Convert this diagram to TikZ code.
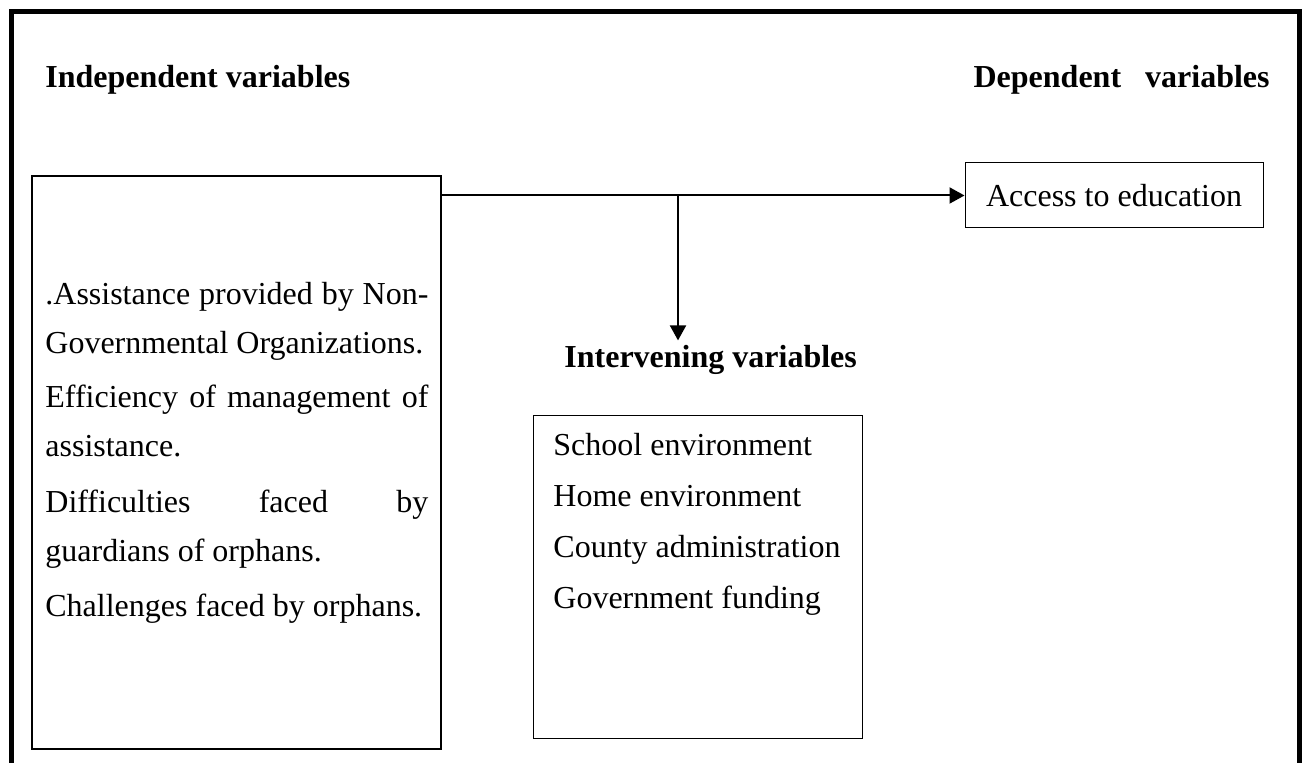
\documentclass[tikz,border=0pt]{standalone}
\usepackage{fontspec}
\setmainfont{Liberation Serif}
\usepackage{tikz}
\usetikzlibrary{arrows.meta,positioning,calc}
\newcommand{\jline}[1]{\hbox to 191.5pt{#1}}

\begin{document}
\begin{tikzpicture}[x=0.5pt,y=-0.5pt,
    txt/.style={inner sep=0pt,font=\fontsize{16}{19}\selectfont},
    head/.style={txt,font=\fontsize{16}{19}\selectfont\bfseries},
    box/.style={draw,line width=0.5pt,inner sep=0pt},
    link/.style={line width=1pt,-{Triangle[width=8pt,length=7.5pt]}}]
  \useasboundingbox (0,0) rectangle (1304,763);

  \draw[line width=2.5pt] (11,763) -- (11,11.5) -- (1299.5,11.5) -- (1299.5,763);

  \node[head,anchor=base west] (indephead) at (45,88) {Independent variables};
  \node[head,anchor=base east] (dephead) at (1270,88) {Dependent~~~variables};

  \node[box,line width=0.9pt,minimum width=204.5pt,minimum height=286.5pt] (indep) at (236.5,462.5) {};
  \foreach \y/\t [count=\i] in {305/{\jline{.Assistance provided by Non-}},
      354/{Governmental Organizations.},
      408/{\jline{Efficiency \hfill of \hfill management \hfill of}},
      457/{assistance.},
      512/{\jline{Difficulties\hfill faced\hfill by}},
      561/{guardians of orphans.},
      616/{Challenges faced by orphans.}}
    \node[txt,anchor=base west] (indep-\i) at (45,\y) {\t};

  \node[box,txt,draw,line width=0.5pt,minimum width=149pt,minimum height=32.5pt] (dep) at (1114,195.5) {Access to education};

  \node[head,anchor=base west] (intertitle) at (564,368) {Intervening variables};
  \node[box,minimum width=164.5pt,minimum height=161pt] (inter) at (697.5,577) {};
  \foreach \y/\t [count=\i] in {456/School environment, 507/Home environment,
      557/County administration, 608/Government funding}
    \node[txt,anchor=base west] (inter-\i) at (553,\y) {\t};

  \coordinate (split) at (678,195.5);
  \draw[link] (indep.east |- dep.west) -- (dep.west);
  \draw[link,shorten >=2.5pt] (split) -- (intertitle.north -| split);
\end{tikzpicture}
\end{document}
